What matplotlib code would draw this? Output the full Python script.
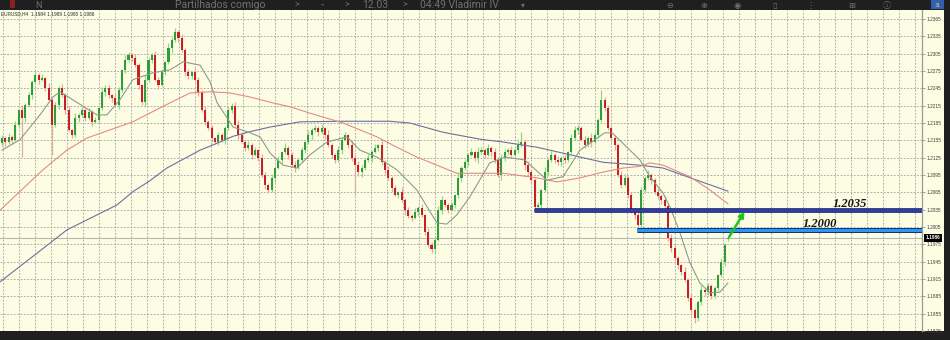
import numpy as np
import matplotlib
matplotlib.use("Agg")
import matplotlib.pyplot as plt
from matplotlib.patches import Rectangle
import matplotlib.patheffects as pe
import matplotlib.transforms as mtransforms

# ---------------- data (prices in pips: 12159 -> 1.2159) ----------------
PIP = 1e-4
symbol = "EURUSD,H4"

bar_open = [
    12150, 12159, 12152, 12161, 12156, 12182, 12208, 12194, 12216, 12233,
    12256, 12268, 12260, 12263, 12246, 12225, 12182, 12216, 12246, 12233,
    12208, 12173, 12164, 12194, 12199, 12208, 12194, 12204, 12187, 12190,
    12211, 12239, 12246, 12233, 12228, 12216, 12242, 12277, 12294, 12303,
    12297, 12285, 12251, 12221, 12260, 12294, 12303, 12260, 12251, 12273,
    12291, 12315, 12329, 12343, 12332, 12311, 12273, 12266, 12273, 12260,
    12239, 12208, 12187, 12176, 12159, 12152, 12164, 12156, 12176, 12208,
    12214, 12182, 12164, 12152, 12142, 12147, 12130, 12138, 12124, 12095,
    12078, 12069, 12090, 12107, 12121, 12135, 12142, 12130, 12112, 12107,
    12121, 12138, 12152, 12164, 12173, 12176, 12169, 12176, 12164, 12147,
    12130, 12121, 12138, 12156, 12164, 12147, 12124, 12112, 12100, 12107,
    12121, 12124, 12135, 12142, 12147, 12117, 12104, 12090, 12072, 12060,
    12066, 12052, 12034, 12024, 12021, 12031, 12038, 12026, 11996, 11974,
    11966, 11983, 12034, 12052, 12043, 12034, 12043, 12060, 12090, 12107,
    12117, 12130, 12135, 12124, 12135, 12138, 12130, 12142, 12135, 12121,
    12095, 12124, 12135, 12138, 12130, 12138, 12147, 12152, 12112, 12100,
    12086, 12040, 12043, 12069, 12100, 12121, 12130, 12121, 12117, 12124,
    12121, 12135, 12159, 12173, 12176, 12156, 12147, 12159, 12152, 12164,
    12190, 12225, 12211, 12176, 12159, 12147, 12095, 12078, 12090, 12060,
    12034, 12026, 12008, 12069, 12090, 12095, 12086, 12066, 12059, 12052,
    12041, 11986, 11969, 11951, 11939, 11927, 11913, 11882, 11861, 11847,
    11875, 11896, 11892, 11903, 11886, 11899, 11922, 11944, 11984,
]
bar_high = [
    12164, 12162, 12168, 12165, 12188, 12210, 12216, 12220, 12238, 12259,
    12275, 12272, 12269, 12265, 12254, 12229, 12221, 12249, 12253, 12237,
    12214, 12175, 12202, 12203, 12213, 12211, 12211, 12208, 12196, 12213,
    12247, 12250, 12251, 12236, 12235, 12248, 12279, 12302, 12308, 12306,
    12304, 12289, 12253, 12268, 12299, 12306, 12310, 12264, 12279, 12293,
    12323, 12333, 12350, 12346, 12339, 12315, 12279, 12275, 12281, 12265,
    12242, 12215, 12191, 12182, 12161, 12169, 12167, 12180, 12213, 12220,
    12221, 12190, 12169, 12155, 12154, 12151, 12144, 12140, 12132, 12100,
    12081, 12097, 12111, 12127, 12137, 12150, 12146, 12135, 12119, 12124,
    12144, 12154, 12172, 12177, 12181, 12179, 12183, 12178, 12172, 12151,
    12133, 12145, 12160, 12170, 12166, 12155, 12129, 12119, 12112, 12124,
    12131, 12139, 12148, 12149, 12155, 12121, 12111, 12094, 12078, 12068,
    12074, 12056, 12039, 12027, 12038, 12042, 12044, 12028, 12004, 11979,
    11986, 12041, 12058, 12054, 12047, 12049, 12062, 12098, 12111, 12122,
    12133, 12142, 12137, 12143, 12143, 12141, 12149, 12146, 12141, 12123,
    12132, 12140, 12141, 12145, 12142, 12153, 12170, 12156, 12120, 12103,
    12090, 12049, 12071, 12108, 12125, 12136, 12133, 12128, 12128, 12130,
    12137, 12166, 12180, 12181, 12180, 12162, 12163, 12167, 12169, 12193,
    12242, 12230, 12216, 12182, 12165, 12151, 12102, 12096, 12094, 12066,
    12038, 12034, 12074, 12093, 12104, 12099, 12089, 12073, 12062, 12058,
    12045, 11992, 11976, 11955, 11941, 11935, 11917, 11889, 11864, 11879,
    11904, 11900, 11908, 11906, 11903, 11924, 11952, 11978, 11989,
]
bar_low = [
    12146, 12146, 12149, 12149, 12154, 12177, 12126, 12186, 12212, 12227,
    12253, 12253, 12258, 12241, 12221, 12130, 12178, 12210, 12230, 12201,
    12171, 12159, 12160, 12186, 12195, 12188, 12191, 12180, 12185, 12185,
    12207, 12231, 12229, 12222, 12213, 12209, 12238, 12272, 12290, 12291,
    12282, 12244, 12217, 12213, 12256, 12288, 12257, 12244, 12249, 12268,
    12287, 12307, 12325, 12326, 12308, 12266, 12262, 12261, 12256, 12231,
    12204, 12181, 12173, 12152, 12148, 12147, 12152, 12148, 12172, 12202,
    12179, 12157, 12150, 12137, 12138, 12123, 12128, 12119, 12091, 12071,
    12064, 12066, 12083, 12105, 12116, 12131, 12122, 12109, 12100, 12105,
    12117, 12133, 12148, 12156, 12170, 12163, 12166, 12157, 12143, 12125,
    12115, 12118, 12131, 12154, 12142, 12120, 12060, 12093, 12092, 12104,
    12118, 12117, 12133, 12137, 12113, 12097, 12087, 12065, 12058, 12055,
    12048, 12026, 12020, 12015, 12018, 12024, 12022, 11991, 11970, 11960,
    11960, 11980, 12027, 12039, 12029, 12032, 12038, 12056, 12082, 12103,
    12111, 12127, 12119, 12116, 12131, 12124, 12127, 12128, 12116, 12091,
    12087, 12120, 12129, 12126, 12128, 12133, 12143, 12104, 12096, 12081,
    12033, 12034, 12038, 12065, 12093, 12117, 12116, 12113, 12110, 12116,
    12118, 12131, 12155, 12166, 12154, 12142, 12144, 12144, 12150, 12159,
    12186, 12206, 12173, 12152, 12139, 12091, 12072, 12076, 12055, 12030,
    12019, 12000, 12004, 12064, 12087, 12080, 12062, 12054, 12045, 12037,
    11981, 11962, 11948, 11933, 11922, 11909, 11876, 11853, 11839, 11843,
    11870, 11885, 11888, 11880, 11882, 11894, 11918, 11937, 11980,
]
bar_close = [
    12159, 12152, 12161, 12156, 12182, 12208, 12194, 12216, 12233, 12256,
    12268, 12260, 12263, 12246, 12225, 12182, 12216, 12246, 12233, 12208,
    12173, 12164, 12194, 12199, 12208, 12194, 12204, 12187, 12190, 12211,
    12239, 12246, 12233, 12228, 12216, 12242, 12277, 12294, 12303, 12297,
    12285, 12251, 12221, 12260, 12294, 12303, 12260, 12251, 12273, 12291,
    12315, 12329, 12343, 12332, 12311, 12273, 12266, 12273, 12260, 12239,
    12208, 12187, 12176, 12159, 12152, 12164, 12156, 12176, 12208, 12214,
    12182, 12164, 12152, 12142, 12147, 12130, 12138, 12124, 12095, 12078,
    12069, 12090, 12107, 12121, 12135, 12142, 12130, 12112, 12107, 12121,
    12138, 12152, 12164, 12173, 12176, 12169, 12176, 12164, 12147, 12130,
    12121, 12138, 12156, 12164, 12147, 12124, 12112, 12100, 12107, 12121,
    12124, 12135, 12142, 12147, 12117, 12104, 12090, 12072, 12060, 12066,
    12052, 12034, 12024, 12021, 12031, 12038, 12026, 11996, 11974, 11966,
    11983, 12034, 12052, 12043, 12034, 12043, 12060, 12090, 12107, 12117,
    12130, 12135, 12124, 12135, 12138, 12130, 12142, 12135, 12121, 12095,
    12124, 12135, 12138, 12130, 12138, 12147, 12152, 12112, 12100, 12086,
    12040, 12043, 12069, 12100, 12121, 12130, 12121, 12117, 12124, 12121,
    12135, 12159, 12173, 12176, 12156, 12147, 12159, 12152, 12164, 12190,
    12225, 12211, 12176, 12159, 12147, 12095, 12078, 12090, 12060, 12034,
    12026, 12008, 12069, 12090, 12095, 12086, 12066, 12059, 12052, 12041,
    11986, 11969, 11951, 11939, 11927, 11913, 11882, 11861, 11847, 11875,
    11896, 11892, 11903, 11886, 11899, 11922, 11944, 11974, 11986,
]

# moving averages sampled at bar positions
ma_fast_bar = [0, 5.4, 11.4, 15.3, 17.4, 21.3, 28.5, 31.5, 35.4, 39.3,
               45.3, 50.5, 54.4, 59.5, 62.5, 64.6, 69.4, 74.5, 77.5, 80.5,
               84.4, 88.6, 92.5, 97.6, 103.6, 107.5, 112.6, 118.6, 124.6, 130.6,
               133.6, 136.6, 140.5, 146.5, 151, 157, 163.7, 168.5, 173.6, 181,
               183.2, 187.7, 191.6, 194.6, 198.5, 200.6, 203.6, 206.6, 209.6, 212.6,
               215.6, 218]
ma_fast_val = [12138, 12156, 12199, 12230, 12239, 12225, 12199, 12199, 12225, 12260,
               12272, 12277, 12291, 12285, 12256, 12220, 12178, 12168, 12161, 12133,
               12112, 12107, 12130, 12152, 12161, 12138, 12126, 12104, 12069, 12012,
               12010, 12026, 12057, 12116, 12126, 12121, 12086, 12092, 12138, 12168,
               12168, 12143, 12121, 12092, 12064, 12040, 11995, 11943, 11908, 11891,
               11892, 11908]
ma_mid_bar = [-0.6, 12.3, 19.5, 25.5, 32.4, 39.3, 47.4, 50.5, 56.5, 62.5,
              68.5, 74.5, 80.5, 86.5, 92.5, 102.4, 112.6, 118.6, 124.6, 130.6,
              136.6, 143.5, 150.5, 160.7, 166.7, 173.6, 180.5, 186.5, 191.6, 194.6,
              198.5, 206.6, 212.6, 218]
ma_mid_val = [12034, 12104, 12138, 12159, 12173, 12187, 12211, 12220, 12237, 12239,
              12237, 12230, 12221, 12213, 12202, 12185, 12161, 12143, 12126, 12112,
              12098, 12098, 12098, 12090, 12083, 12090, 12100, 12107, 12110, 12116,
              12112, 12092, 12069, 12045]
ma_slow_bar = [-0.6, 14.4, 19.5, 34.5, 39.3, 44.4, 49.5, 59.5, 64.6, 69.4,
               74.5, 80.5, 89.5, 102.4, 116.5, 122.5, 132.4, 143.5, 150.5, 160.7,
               170.6, 180.5, 191.6, 198.5, 208.7, 218]
ma_slow_val = [11910, 11977, 12000, 12043, 12066, 12085, 12107, 12138, 12150, 12162,
               12170, 12178, 12187, 12188, 12188, 12185, 12169, 12157, 12152, 12143,
               12130, 12117, 12112, 12107, 12086, 12067]

level_prices = [1.2035, 1.2000]
level_start_bar = [160, 191]
level_labels = ["1.2035", "1.2000"]
level_label_bar = [254.5, 245.6]

price_ticks = [1.2365, 1.2335, 1.2305, 1.2275, 1.2245, 1.2215, 1.2185, 1.2155,
               1.2125, 1.2095, 1.2065, 1.2035, 1.2005, 1.1975, 1.1945, 1.1915,
               1.1885, 1.1855, 1.1825]

# ---------------- figure ----------------
W, H = 950, 340
fig = plt.figure(figsize=(9.5, 3.4), dpi=100)
fig.patch.set_facecolor("#1f1f1f")


def fx(px):
    return px / W


def fy(py):
    return 1 - py / H


BG = "#fdfde3"
fig.patches.append(Rectangle((0, fy(331)), fx(944), fy(10) - fy(331),
                             transform=fig.transFigure, facecolor=BG,
                             edgecolor="none", zorder=-5))

ax = fig.add_axes([0, fy(331), fx(922), fy(10) - fy(331)])
ax.set_zorder(1)
ax.set_facecolor(BG)
XMIN, XMAX = -0.6, 276.3
ax.set_xlim(XMIN, XMAX)
ax.set_ylim(1.18249, 1.23806)

# grid
ax.set_xticks(np.arange(0.39, XMAX, 4.805))
ax.tick_params(axis="x", length=0, labelbottom=False)
ax.yaxis.tick_right()
ax.set_yticks(price_ticks)
ax.set_yticklabels([f"{t:.4f}" for t in price_ticks])
ax.tick_params(axis="y", length=2, width=0.5, color="#808080", pad=1,
               labelsize=3.4, labelcolor="#3a3a3a")
for lab in ax.get_yticklabels():
    lab.set_fontfamily("Liberation Sans")
ax.grid(True, color="#a2a2aa", lw=0.6, ls=(0, (2.2, 1.8)), zorder=0)
ax.set_axisbelow(True)
for s in ["top", "left", "bottom"]:
    ax.spines[s].set_visible(False)
ax.spines["right"].set_color("#9a9a9a")
ax.spines["right"].set_linewidth(0.9)

# candles
o = np.array(bar_open) * PIP
h = np.array(bar_high) * PIP
l = np.array(bar_low) * PIP
c = np.array(bar_close) * PIP
x = np.arange(len(c))
up = c >= o
wick_col = np.where(up, "#96d494", "#e3aaa2")
body_col = np.where(up, "#2f9d38", "#c81f27")
ax.vlines(x, l, h, colors=wick_col, lw=0.9, zorder=2)
ax.bar(x, c - o, bottom=o, width=0.62, color=body_col, lw=0, zorder=3)

# moving averages
ax.plot(ma_slow_bar, np.array(ma_slow_val) * PIP, color="#6d70a0", lw=0.8, zorder=4)
ax.plot(ma_mid_bar, np.array(ma_mid_val) * PIP, color="#e48a88", lw=0.8, zorder=4)
ax.plot(ma_fast_bar, np.array(ma_fast_val) * PIP, color="#8d9c88", lw=0.8, zorder=4)

# current price line
ax.axhline(c[-1], color="#b9b9b2", lw=0.8, zorder=1)

# support / resistance levels
styles = [("#2f3fae", "#121a5e", 2.0, 3.3), ("#2a98ee", "#15286a", 2.3, 3.6)]
for lv, sb, lab, lb, (fc, ec, lw_in, lw_out) in zip(level_prices, level_start_bar,
                                                      level_labels, level_label_bar, styles):
    ax.plot([sb - 0.3, XMAX], [lv, lv], color=fc, lw=lw_in, solid_capstyle="butt",
            zorder=6, path_effects=[pe.Stroke(linewidth=lw_out, foreground=ec), pe.Normal()])
    ax.text(lb, lv + 0.00052, lab, ha="center", va="baseline", fontsize=9,
            fontfamily="Liberation Serif", fontweight="bold", fontstyle="italic",
            color="#141414", zorder=7)

# green arrow
ax.annotate("", xy=(len(c) - 1 + 5, level_prices[0] - 0.00033),
            xytext=(len(c) - 1 + 0.4, c[-1] + 0.0002),
            arrowprops=dict(arrowstyle="-|>", color="#1fc41f", lw=1.8,
                            mutation_scale=8, shrinkA=0, shrinkB=0), zorder=8)

# current price tag
trans = mtransforms.blended_transform_factory(ax.transAxes, ax.transData)
ax.text(1.0035, c[-1], f"{c[-1]:.4f}", transform=trans, ha="left", va="center",
        fontsize=3.4, color="white", fontfamily="Liberation Sans", fontweight="bold",
        clip_on=False, zorder=9,
        bbox=dict(boxstyle="square,pad=0.35", fc="black", ec="none"))

# info line top-left
fig.text(fx(1), fy(15), f"{symbol}  {o[-1]:.4f} {h[-1]:.4f} {l[-1]:.4f} {c[-1]:.4f}",
         fontsize=3.4, color="#2a2a2a", fontfamily="Liberation Sans", va="baseline",
         zorder=10)

# header bar (app toolbar)
hdr = dict(color="#707070", va="baseline", fontfamily="Roboto")
fig.patches.append(Rectangle((fx(10), fy(8)), fx(5), fy(0) - fy(8), transform=fig.transFigure,
                             facecolor="#8a1f1f", edgecolor="none"))
fig.text(fx(35), fy(8), "N", fontsize=6.5, **hdr)
fig.text(fx(175), fy(8), "Partilhados comigo", fontsize=7.5, **hdr)
fig.text(fx(294), fy(8), ">", fontsize=6.5, **hdr)
fig.text(fx(321), fy(7), "••", fontsize=4.5, **hdr)
fig.text(fx(344), fy(8), ">", fontsize=6.5, **hdr)
fig.text(fx(362), fy(8), "12.03", fontsize=7.5, **hdr)
fig.text(fx(402), fy(8), ">", fontsize=6.5, **hdr)
fig.text(fx(420), fy(8), "04:49 Vladimir IV", fontsize=7.5, **hdr)
fig.text(fx(521), fy(7), "▾", fontsize=5.5, color="#707070", va="baseline",
         fontfamily="DejaVu Sans")
for gx, g in [(666, "⊖"), (700, "⊕"), (733, "◉"), (772, "▯"), (806, "⋮"),
              (848, "⊞"), (883, "ⓘ")]:
    fig.text(fx(gx), fy(8), g, fontsize=6, color="#707070", va="baseline",
             fontfamily=["DejaVu Sans", "Noto Sans CJK SC"])
fig.patches.append(Rectangle((fx(931), fy(9)), fx(13), fy(0) - fy(9), transform=fig.transFigure,
                             facecolor="#2f5fb0", edgecolor="none"))
fig.text(fx(937.5), fy(6.8), "31", fontsize=3.5, color="#f0d060", va="baseline", ha="center")

fig.savefig("out.png", dpi=100, facecolor=fig.get_facecolor())
